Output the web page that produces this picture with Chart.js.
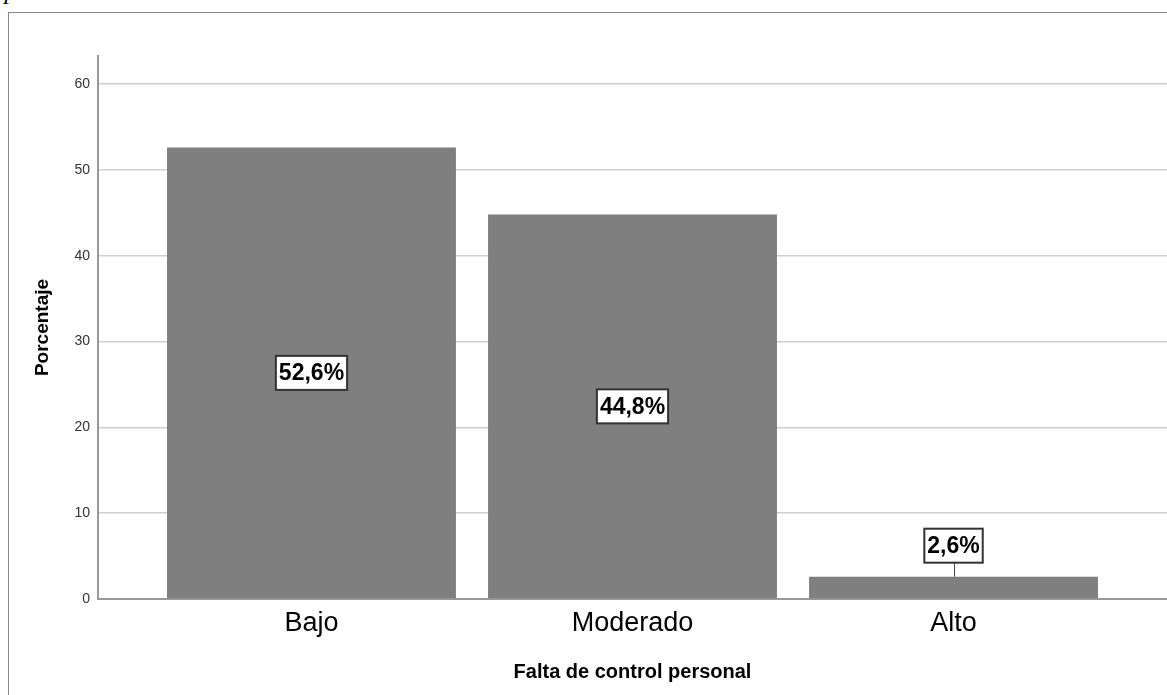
<!DOCTYPE html>
<html>
<head>
<meta charset="utf-8">
<script src="https://cdn.jsdelivr.net/npm/chart.js@4"></script>
<style>
  body { margin: 0; overflow: hidden; background: #fff; width: 1167px; height: 695px; position: relative; }
  #frame { position: absolute; left: 8px; top: 12px; width: 1300px; height: 800px; border: 1px solid #888; }
  #corner { position: absolute; left: 3px; top: -14px; font: italic 20px "Liberation Serif", serif; }
  canvas { position: absolute; left: 0; top: 0; }
</style>
</head>
<body>
<div id="frame"></div>
<div id="corner">P</div>
<canvas id="bar-chart" width="1167" height="695"></canvas>
<script>
const categories = ['Bajo', 'Moderado', 'Alto'];
const porcentajes = [52.6, 44.8, 2.6];
const yTicks = [0, 10, 20, 30, 40, 50, 60];

const FONT = '"Liberation Sans", Arial, sans-serif';
const X_MIN = 0.335, X_MAX = 3.665;

// etiquetas de valor con recuadro blanco
const valueLabels = {
    id: 'valueLabels',
    afterDatasetsDraw(chart) {
        const c = chart.ctx;
        const meta = chart.getDatasetMeta(0);
        c.save();
        c.font = 'bold 23px ' + FONT;
        c.textAlign = 'center';
        c.textBaseline = 'middle';
        meta.data.forEach((bar, i) => {
            const txt = porcentajes[i].toFixed(1).replace('.', ',') + '%';
            const w = c.measureText(txt).width + 6;
            const h = 34;
            const barH = bar.base - bar.y;
            let cy;
            if (barH > 60) {
                cy = bar.y + barH / 2;
            } else {
                cy = bar.y - 14 - h / 2;
                c.strokeStyle = '#444';
                c.lineWidth = 1;
                c.beginPath();
                c.moveTo(bar.x + 1, bar.y - 14);
                c.lineTo(bar.x + 1, bar.y);
                c.stroke();
            }
            c.fillStyle = '#fff';
            c.fillRect(bar.x - w / 2, cy - h / 2, w, h);
            c.strokeStyle = '#333';
            c.lineWidth = 2;
            c.strokeRect(bar.x - w / 2, cy - h / 2, w, h);
            c.fillStyle = '#000';
            c.fillText(txt, bar.x, cy + 1);
        });
        c.restore();
    }
};

new Chart(document.getElementById('bar-chart'), {
    type: 'bar',
    data: {
        datasets: [{
            data: porcentajes.map((v, i) => ({ x: i + 1, y: v })),
            backgroundColor: '#7f7f7f',
            borderWidth: 0,
            categoryPercentage: 1,
            barPercentage: 0.9
        }]
    },
    options: {
        responsive: false,
        animation: false,
        layout: { padding: { top: 56, right: 0, left: 0, bottom: 0 } },
        plugins: { legend: { display: false }, tooltip: { enabled: false } },
        scales: {
            x: {
                type: 'linear',
                offset: false,
                min: X_MIN,
                max: X_MAX,
                grid: { display: false, drawTicks: false, offset: false },
                border: { display: true, color: '#999', width: 2 },
                afterBuildTicks: s => {
                    s.ticks = categories.map((c, i) => ({ value: i + 1 }));
                    s.min = X_MIN;
                    s.max = X_MAX;
                },
                afterFit: s => { s.height = 96; },
                ticks: {
                    padding: 8,
                    color: '#000',
                    font: { family: FONT, size: 27 },
                    callback: v => categories[v - 1]
                },
                title: {
                    display: true,
                    text: 'Falta de control personal',
                    color: '#000',
                    font: { family: FONT, size: 20, weight: 'bold' },
                    padding: { top: 0, bottom: 11 }
                }
            },
            y: {
                min: 0,
                max: 63.26,
                grid: { color: '#cfcfcf', lineWidth: 1.5, drawTicks: false },
                border: { display: true, color: '#999', width: 2 },
                afterBuildTicks: s => { s.ticks = yTicks.map(v => ({ value: v })); },
                afterFit: s => { s.width = 98; },
                ticks: {
                    padding: 8,
                    color: '#333',
                    font: { family: FONT, size: 14 }
                },
                title: {
                    display: true,
                    text: 'Porcentaje',
                    color: '#000',
                    font: { family: FONT, size: 19, weight: 'bold' },
                    padding: { top: 31, bottom: 0 }
                }
            }
        }
    },
    plugins: [valueLabels]
});
</script>
</body>
</html>
